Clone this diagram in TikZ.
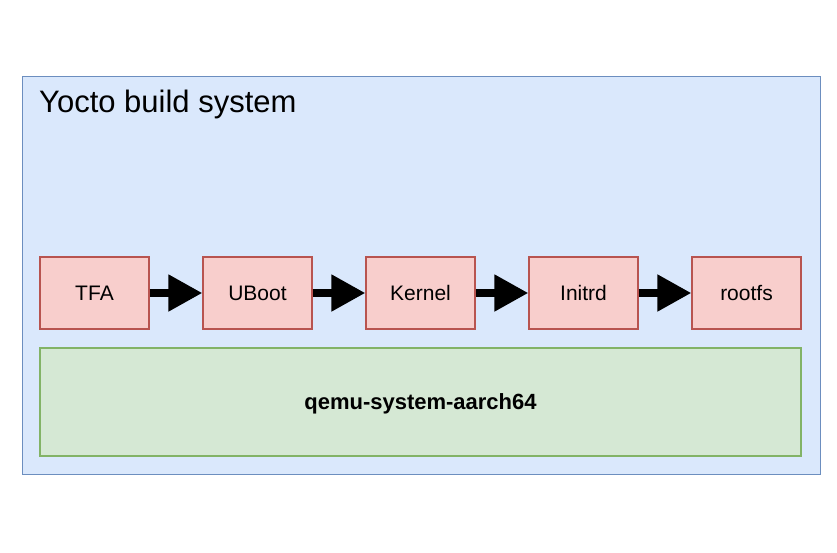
\documentclass[tikz,border=0pt]{standalone}
\usepackage{fontspec}
\setmainfont{Liberation Sans}
\usetikzlibrary{arrows.meta}
\definecolor{bluefill}{HTML}{DAE8FC}
\definecolor{bluedraw}{HTML}{6C8EBF}
\definecolor{redfill}{HTML}{F8CECC}
\definecolor{reddraw}{HTML}{B85450}
\definecolor{greenfill}{HTML}{D5E8D4}
\definecolor{greendraw}{HTML}{82B366}
\tikzset{
  stagebox/.style={draw=reddraw, fill=redfill, line width=1.3pt, minimum width=109pt, minimum height=72pt, inner sep=0pt, font=\fontsize{21}{24}\selectfont},
  flowarrow/.style={line width=8pt, -{Triangle[length=34pt,width=35pt]}},
}
\begin{document}
\begin{tikzpicture}[x=1pt,y=-1pt]
\useasboundingbox (0,0) rectangle (837,552);
\node[draw=bluedraw, fill=bluefill, line width=1.3pt, minimum width=798pt, minimum height=398pt, inner sep=0pt, anchor=north west] (outer) at (22,76) {};
\node[anchor=base west, inner sep=0pt, font=\fontsize{31}{34}\selectfont] (title) at (39,112) {Yocto build system};
\node[stagebox] (tfa) at (94.5,293) {TFA};
\node[stagebox] (uboot) at (257.5,293) {UBoot};
\node[stagebox] (kernel) at (420.5,293) {Kernel};
\node[stagebox] (initrd) at (583.5,293) {Initrd};
\node[stagebox] (rootfs) at (746.5,293) {rootfs};
\node[draw=greendraw, fill=greenfill, line width=1.3pt, minimum width=761pt, minimum height=108pt, inner sep=0pt] (qemu) at (420.5,402) {};
\node[font=\bfseries\fontsize{22}{24}\selectfont, inner sep=0pt] (qemulabel) at (420.5,404) {qemu-system-aarch64};
\draw[flowarrow] (tfa.east) -- (uboot.west);
\draw[flowarrow] (uboot.east) -- (kernel.west);
\draw[flowarrow] (kernel.east) -- (initrd.west);
\draw[flowarrow] (initrd.east) -- (rootfs.west);
\end{tikzpicture}
\end{document}
